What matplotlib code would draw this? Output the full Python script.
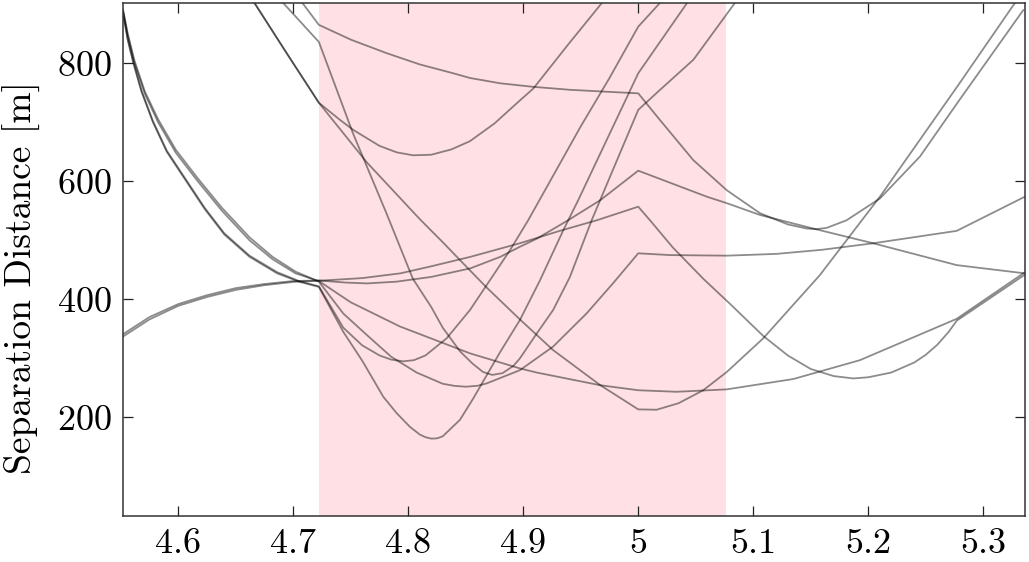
import matplotlib
matplotlib.use('Agg')
import matplotlib.pyplot as plt

plt.rcParams['font.family'] = 'cmr10'
plt.rcParams['mathtext.fontset'] = 'cm'
plt.rcParams['axes.formatter.use_mathtext'] = True

# shaded time window
window = (4.7223, 5.0765)

x_ticks = [4.6, 4.7, 4.8, 4.9, 5.0, 5.1, 5.2, 5.3]
x_tick_labels = ['4.6', '4.7', '4.8', '4.9', '5', '5.1', '5.2', '5.3']
y_ticks = [200, 400, 600, 800]

# separation curves (x, distance in m)
x_p1 = [4.552, 4.575, 4.6, 4.625, 4.65, 4.675, 4.7, 4.7223, 4.745, 4.764, 4.79, 4.82,
        4.854, 4.88, 4.897, 4.912, 4.939, 4.967, 5.0, 5.0595, 5.0769, 5.1058, 5.152,
        5.2043, 5.2769, 5.3363]
y_p1 = [341, 370, 392, 407, 419, 426, 431, 432, 428.5, 427, 430, 438,
        452.5, 472, 489, 503, 534, 568, 618, 574, 563, 543, 520,
        495, 458, 444]

x_p2 = [4.552, 4.575, 4.6, 4.625, 4.65, 4.675, 4.7, 4.7223, 4.76, 4.793, 4.82, 4.854,
        4.897, 4.93, 4.964, 5.0, 5.0102, 5.03, 5.0565, 5.08, 5.1087, 5.13, 5.15, 5.17,
        5.187, 5.2, 5.22, 5.24, 5.25, 5.26, 5.27, 5.277, 5.3363]
y_p2 = [337, 366, 389, 404, 416, 424, 429.5, 431.5, 436, 444, 456, 472,
        495, 515, 534, 557, 534, 488, 435, 392, 338, 305, 282, 270,
        266, 268, 276, 293, 306, 323, 345, 364, 442]

x_s = [4.552, 4.556, 4.562, 4.571, 4.5825, 4.598, 4.617, 4.638, 4.662, 4.682, 4.702,
       4.7223, 4.75, 4.7928, 4.8537, 4.8971, 4.9117, 4.9667, 5.0, 5.0334, 5.0769,
       5.1348, 5.1928, 5.2769, 5.3363]
y_s = [888, 848, 800, 748, 700, 648, 600, 550, 500, 468, 444,
       431, 395, 354, 308.5, 283, 276, 254.6, 246, 243.4, 247.5,
       265, 297, 367, 446]

x_q = [4.552, 4.556, 4.562, 4.571, 4.5825, 4.598, 4.617, 4.638, 4.662, 4.682, 4.702,
       4.7223, 4.7435, 4.7638, 4.785, 4.8073, 4.83, 4.84, 4.85, 4.86, 4.8682, 4.8971,
       4.926, 4.955, 4.978, 5.0, 5.0276, 5.077, 5.12, 5.16, 5.2043, 5.2769, 5.3363]
y_q = [891, 851, 804, 752, 705, 653, 605, 555, 505, 472, 447,
       430, 376, 340, 303, 276, 257, 253.5, 252, 253.5, 257.6, 280,
       320, 376, 427, 478, 475, 474, 477, 484, 495, 516, 574]

x_v = [4.552, 4.556, 4.561, 4.568, 4.578, 4.59, 4.607, 4.623, 4.64, 4.662, 4.686,
       4.705, 4.7223, 4.7435, 4.76, 4.7783, 4.79, 4.8015, 4.81, 4.815, 4.8203, 4.825,
       4.83, 4.845, 4.8565, 4.8797, 4.8971, 4.9145, 4.9348, 4.9478, 5.0, 5.0435]
y_v = [885, 840, 800, 752, 700, 650, 600, 553, 510, 472, 444,
       430, 421, 345, 296, 235, 207, 184, 171, 166.5, 164, 164.5,
       168, 196, 232, 310, 365, 432, 517, 568, 783, 905]

x_m = [4.552, 4.556, 4.561, 4.568, 4.578, 4.59, 4.607, 4.623, 4.64, 4.662, 4.686,
       4.705, 4.7223, 4.7435, 4.76, 4.775, 4.785, 4.7957, 4.805, 4.815, 4.8334, 4.8537,
       4.8884, 4.9043, 4.95, 4.975, 5.0, 5.0188]
y_m = [887, 842, 802, 754, 702, 652, 602, 555, 512, 474, 446,
       431, 422, 352, 322, 305, 298, 295, 297, 305, 334, 382,
       483, 534, 693, 775, 862, 902]

x_u = [4.664, 4.6943, 4.7223, 4.74, 4.7522, 4.775, 4.79, 4.8043, 4.82, 4.8375, 4.8537,
       4.875, 4.8971, 4.9087, 4.94, 4.9696]
y_u = [909, 817, 733, 705, 687, 660, 649, 644, 645, 654, 668,
       698, 737, 757, 834, 905]

x_b = [4.664, 4.6943, 4.7223, 4.764, 4.81, 4.8304, 4.8537, 4.8682, 4.8971, 4.926, 4.9667,
       5.0, 5.016, 5.035, 5.0565, 5.077, 5.1087, 5.1579, 5.2102, 5.2783, 5.3275]
y_b = [909, 817, 733, 632, 536, 496, 449, 420, 366, 314, 255,
       213.6, 213, 224, 246, 277, 334, 441, 574, 763, 902]

x_c = [4.708, 4.7223, 4.75, 4.7813, 4.81, 4.8391, 4.8537, 4.88, 4.9087, 4.9406, 4.9696,
       5.0, 5.0188, 5.0478, 5.0769, 5.1058, 5.13, 5.1464, 5.155, 5.1638, 5.1812, 5.2102,
       5.245, 5.2783, 5.3348]
y_c = [902, 865, 840, 817, 798, 783, 775, 766, 760, 755, 752,
       749, 704, 636, 585, 546, 527, 520, 519, 521, 534, 571,
       642, 735, 890]

x_d = [4.6913, 4.7223, 4.752, 4.781, 4.804, 4.82, 4.83, 4.845, 4.856, 4.865, 4.873,
       4.882, 4.8913, 4.8971, 4.9117, 4.926, 4.9406, 4.9595, 5.0, 5.019, 5.048, 5.084]
y_d = [902, 836, 681, 546, 435, 387, 352, 312, 291, 277, 272,
       275, 287, 300, 342, 382, 438, 534, 721, 755, 806, 902]

curves = [(x_p1, y_p1), (x_p2, y_p2), (x_s, y_s), (x_q, y_q), (x_v, y_v),
          (x_m, y_m), (x_u, y_u), (x_b, y_b), (x_c, y_c), (x_d, y_d)]

fig = plt.figure(figsize=(10.29, 5.62), dpi=100)
ax = fig.add_axes([0.1198, 0.0824, 0.8763, 0.9117])

# highlighted window behind everything
ax.axvspan(window[0], window[1], color='#ffe1e5', lw=0, zorder=0)

for xs, ys in curves:
    ax.plot(xs, ys, color='black', alpha=0.45, lw=1.3, zorder=2)

ax.set_xlim(4.5522, 5.3363)
ax.set_ylim(33.5, 901.5)
ax.set_xticks(x_ticks)
ax.set_xticklabels(x_tick_labels)
ax.set_yticks(y_ticks)

ax.tick_params(direction='in', top=True, right=True, length=7, width=0.9,
               labelsize=26, color='#222222')
ax.tick_params(axis='x', pad=9)
ax.tick_params(axis='y', pad=8)
for sp in ax.spines.values():
    sp.set_linewidth(1.1)
    sp.set_color('#333333')

ax.set_ylabel('Separation Distance [m]', fontsize=27)
ax.yaxis.set_label_coords(-0.091, 0.465)

fig.savefig('out.png', dpi=100)
